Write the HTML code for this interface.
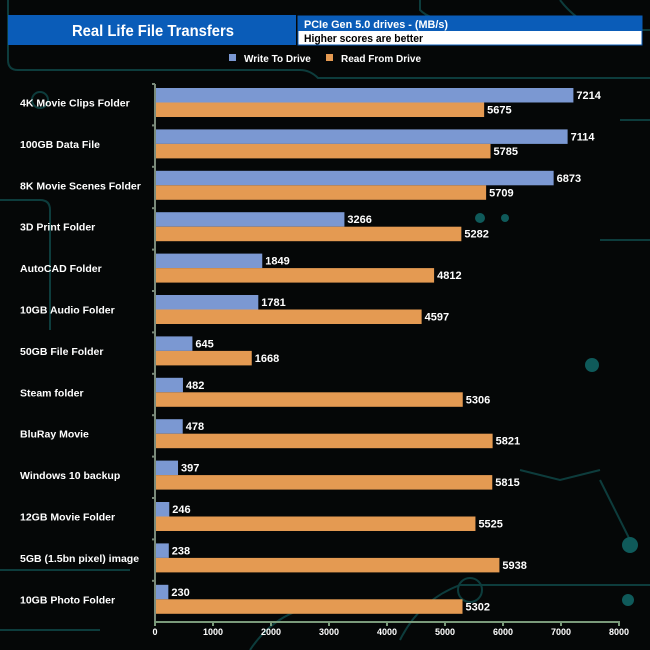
<!DOCTYPE html>
<html><head><meta charset="utf-8"><style>
body{margin:0;background:#050707;}
svg{display:block;font-family:"Liberation Sans",Arial,sans-serif;}
</style></head><body>
<svg id="c" width="650" height="650" viewBox="0 0 650 650">
<rect width="650" height="650" fill="#050707"/>
<g stroke="#0f4a4a" stroke-width="2" fill="none" opacity="0.8">
<path d="M8 0 V60 Q8 70 18 70 H300 Q310 70 318 78 H650"/>
<path d="M560 0 Q575 20 600 30 H650"/>
<path d="M420 0 V10 Q430 20 450 20 H520"/>
<path d="M0 200 H40 Q50 200 50 210 V330"/>
<path d="M620 120 H650 M600 240 H650"/>
<path d="M400 640 Q420 600 460 585 H650"/>
<path d="M250 650 Q270 620 300 610 H360"/>
<path d="M600 480 L630 540 M520 470 L560 480 L600 470"/>
<path d="M0 570 H130 M0 630 H100"/>
<circle cx="40" cy="100" r="8"/><circle cx="470" cy="590" r="12"/>
</g>
<g fill="#0f5a5a">
<circle cx="630" cy="545" r="8"/><circle cx="628" cy="600" r="6"/><circle cx="480" cy="218" r="5"/><circle cx="505" cy="218" r="4"/><circle cx="592" cy="365" r="7"/>
</g>
<rect x="8" y="15" width="288" height="30" fill="#0a5cb8"/>
<text x="72" y="36" fill="#fff" font-size="16" font-weight="bold" textLength="162" lengthAdjust="spacingAndGlyphs">Real Life File Transfers</text>
<rect x="298" y="16" width="344" height="29" fill="#fff" stroke="#0a5cb8" stroke-width="1"/>
<rect x="298" y="16" width="344" height="15" fill="#0a5cb8"/>
<text x="304" y="28" fill="#fff" font-size="11" font-weight="bold" textLength="144" lengthAdjust="spacingAndGlyphs">PCIe Gen 5.0 drives - (MB/s)</text>
<text x="304" y="42" fill="#000" font-size="11" font-weight="bold" textLength="119" lengthAdjust="spacingAndGlyphs">Higher scores are better</text>
<rect x="229" y="54" width="7" height="7" fill="#7b98d2"/>
<text x="244" y="62" fill="#fff" font-size="10" font-weight="bold">Write To  Drive</text>
<rect x="326" y="54" width="7" height="7" fill="#e49a52"/>
<text x="341" y="62" fill="#fff" font-size="10" font-weight="bold">Read From  Drive</text>
<g id="plot"></g>
</svg>
<script>
const categories=["4K Movie Clips Folder","100GB Data File","8K Movie Scenes Folder","3D Print Folder","AutoCAD Folder","10GB Audio Folder","50GB File Folder","Steam folder","BluRay Movie","Windows 10 backup","12GB Movie Folder","5GB (1.5bn pixel) image","10GB Photo Folder"];
const writeValues=[7214,7114,6873,3266,1849,1781,645,482,478,397,246,238,230];
const readValues=[5675,5785,5709,5282,4812,4597,1668,5306,5821,5815,5525,5938,5302];
const xTicks=[0,1000,2000,3000,4000,5000,6000,7000,8000];
const NS="http://www.w3.org/2000/svg";
const g=document.getElementById('plot');
const X0=155,X1=619,XMAX=8000,TOP=88,PITCH=41.4,BH=14.5,AXY=622;
const xs=v=>X0+(X1-X0)*v/XMAX;
function el(t,a){const e=document.createElementNS(NS,t);for(const k in a)e.setAttribute(k,a[k]);g.appendChild(e);return e;}
categories.forEach((c,i)=>{
  const y=TOP+i*PITCH;
  let r=el('rect',{x:xs(0),y:y,width:xs(writeValues[i])-xs(0),height:BH,fill:'#7b98d2'});
  
  
  r=el('rect',{x:xs(0),y:y+BH,width:xs(readValues[i])-xs(0),height:BH,fill:'#e49a52'});
  
  
  let t=el('text',{x:xs(writeValues[i])+3,y:y+11,fill:'#fff','font-size':11,'font-weight':'bold'});t.textContent=writeValues[i];
  
  
  t=el('text',{x:xs(readValues[i])+3,y:y+BH+11,fill:'#fff','font-size':11,'font-weight':'bold'});t.textContent=readValues[i];
  
  
  t=el('text',{x:20,y:y+BH+4,fill:'#fff','font-size':10.5,'font-weight':'bold'});t.textContent=c;
  
  
  const tk=el('line',{x1:X0-3,x2:X0,y1:y-4,y2:y-4,stroke:'#7a8a7a','stroke-width':2});
  
  
});
let ax=el('line',{x1:X0,x2:X0,y1:TOP-4,y2:AXY,stroke:'#7a8a7a','stroke-width':2});


ax=el('line',{x1:X0-1,x2:X1+1,y1:AXY,y2:AXY,stroke:'#7a9a7a','stroke-width':2});


xTicks.forEach(v=>{
  const tk=el('line',{x1:xs(v),x2:xs(v),y1:AXY,y2:AXY+4,stroke:'#7a9a7a','stroke-width':2});
  
  
  const t=el('text',{x:xs(v),y:AXY+13,fill:'#fff','font-size':9,'font-weight':'bold','text-anchor':'middle'});t.textContent=v;
  
  
});
</script>
</body></html>
